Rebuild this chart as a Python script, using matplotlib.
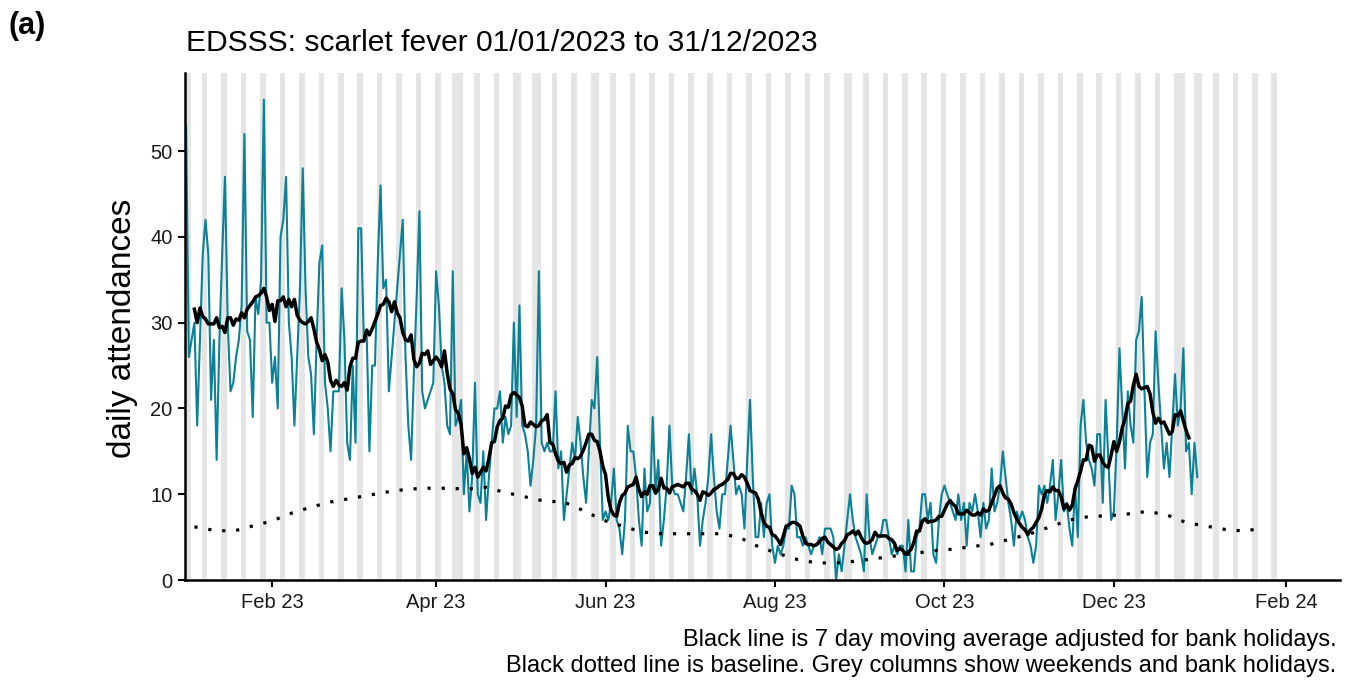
import numpy as np
import pandas as pd
import matplotlib
matplotlib.use("Agg")
from matplotlib import pyplot as plt
from matplotlib import dates as mdates

plt.rcParams['font.family'] = ['Liberation Sans', 'DejaVu Sans']

# daily attendances 01/01/2023 - 31/12/2023 (one row per week, Sun..Sat)
attendances = [
    53, 26, 28, 30, 18, 28, 38,
    42, 38, 21, 28, 14, 28, 38,
    47, 30, 22, 23, 26, 28, 32,
    52, 29, 28, 19, 33, 31, 35,
    56, 30, 30, 23, 26, 20, 40,
    42, 47, 30, 26, 18, 26, 34,
    48, 34, 26, 24, 17, 28, 37,
    39, 23, 20, 15, 22, 22, 22,
    34, 28, 16, 14, 25, 16, 41,
    41, 28, 29, 15, 25, 25, 37,
    46, 34, 35, 22, 26, 30, 34,
    38, 42, 26, 18, 14, 24, 33,
    43, 22, 20, 21, 22, 23, 36,
    32, 25, 23, 18, 17, 36, 18,
    19, 21, 10, 15, 8, 12, 23,
    10, 9, 15, 7, 12, 16, 20,
    20, 22, 16, 19, 17, 18, 30,
    19, 32, 18, 17, 15, 11, 14,
    18, 36, 16, 15, 16, 15, 15,
    22, 13, 15, 7, 10, 13, 16,
    14, 19, 16, 12, 9, 15, 21,
    20, 26, 16, 7, 8, 7, 9,
    13, 7, 6, 3, 7, 18, 15,
    15, 12, 7, 4, 13, 8, 9,
    19, 10, 14, 4, 7, 11, 18,
    11, 10, 10, 9, 8, 12, 17,
    10, 13, 10, 4, 7, 9, 12,
    17, 12, 8, 6, 10, 10, 14,
    18, 14, 10, 11, 10, 6, 14,
    21, 12, 5, 5, 9, 5, 9,
    10, 4, 2, 4, 3, 4, 6,
    6, 11, 10, 5, 5, 4, 5,
    4, 3, 4, 4, 5, 3, 6,
    6, 6, 5, 0, 3, 1, 4,
    7, 10, 7, 5, 4, 3, 1,
    10, 5, 3, 4, 5, 5, 7,
    7, 5, 3, 4, 3, 4, 4,
    1, 7, 1, 1, 5, 6, 10,
    10, 7, 9, 3, 2, 7, 10,
    11, 10, 9, 8, 7, 10, 7,
    9, 4, 9, 8, 10, 8, 5,
    9, 6, 7, 13, 8, 9, 11,
    15, 12, 9, 7, 4, 8, 7,
    8, 7, 5, 4, 2, 4, 11,
    10, 11, 9, 11, 14, 7, 10,
    14, 8, 9, 6, 4, 11, 5,
    18, 21, 16, 14, 13, 11, 17,
    17, 9, 21, 14, 7, 8, 16,
    27, 20, 13, 22, 18, 16, 28,
    29, 33, 22, 12, 16, 17, 29,
    23, 18, 13, 16, 12, 18, 24,
    18, 20, 27, 15, 16, 10, 16,
    12,
]

# baseline, weekly from 04/01/2023
baseline = [6.2, 5.8, 5.7, 6.3, 6.9, 7.8, 8.5, 9.1, 9.5, 9.9,
            10.3, 10.6, 10.7, 10.7, 10.6, 10.8, 10.2, 9.7, 9.2, 9.1,
            8.1, 7.0, 6.3, 5.6, 5.4, 5.4, 5.4, 5.4, 5.0, 3.9,
            3.1, 2.4, 2.0, 2.0, 2.2, 2.5, 2.8, 3.1, 3.4, 3.6,
            3.9, 4.2, 4.8, 5.4, 6.2, 7.0, 7.4, 7.5, 7.7, 8.0,
            7.6, 6.7, 6.3, 5.9, 5.7, 6.1]

bank_holidays = ['2023-01-02', '2023-04-07', '2023-04-10', '2023-05-01', '2023-05-08',
                 '2023-05-29', '2023-08-28', '2023-12-25', '2023-12-26', '2024-01-01']

dates = pd.date_range('2023-01-01', '2023-12-31', freq='D')
assert len(dates) == len(attendances)
series = pd.Series(attendances, index=dates, dtype=float)
ma7 = series.rolling(7, center=True).mean()
base_dates = pd.date_range('2023-01-04', periods=len(baseline), freq='7D')

fig = plt.figure(figsize=(13.57, 6.8), dpi=100)
ax = fig.add_axes([0.1363, 0.147, 0.8512, 0.7456])

# grey columns: weekends and bank holidays
cal = pd.date_range('2023-01-01', '2024-01-28', freq='D')
bh = pd.to_datetime(bank_holidays)
grey = [d for d in cal if d.weekday() >= 5 or d in bh]
runs = []
for d in grey:
    if runs and (d - runs[-1][1]).days == 1:
        runs[-1][1] = d
    else:
        runs.append([d, d])
for s, e in runs:
    x0 = mdates.date2num(s) - 0.3
    x1 = mdates.date2num(e) + 0.7
    ax.axvspan(x0, x1, color='#e5e5e5', lw=0, zorder=0)

ax.plot(dates, series, color='#0b8196', lw=1.5, zorder=2)
ax.plot(base_dates, baseline, color='black', lw=2.3, ls=(0, (1, 3.4)), zorder=3)
ax.plot(dates, ma7, color='black', lw=2.5, zorder=4)

start = mdates.date2num(pd.Timestamp('2023-01-01'))
ax.set_xlim(start - 0.4, start + 415.4)
ax.set_ylim(0, 59.1)
ax.set_yticks([0, 10, 20, 30, 40, 50])
ax.xaxis.set_major_locator(mdates.MonthLocator(bymonth=[2, 4, 6, 8, 10, 12]))
ax.xaxis.set_major_formatter(mdates.DateFormatter('%b %y'))

for sp in ['top', 'right']:
    ax.spines[sp].set_visible(False)
for sp in ['left', 'bottom']:
    ax.spines[sp].set_linewidth(1.8)
ax.tick_params(axis='both', length=5, width=1.5, labelsize=14.5, labelcolor='#1a1a1a', pad=4)

fig.text(0.137, 0.937, 'EDSSS: scarlet fever 01/01/2023 to 31/12/2023', fontsize=21.6,
         ha='left', va='center')
fig.text(0.006, 0.962, '(a)', fontsize=22, fontweight='bold', ha='left', va='center')
fig.text(0.0906, 0.5176, 'daily attendances', fontsize=24, rotation=90, ha='center', va='center')
fig.text(0.985, 0.059, 'Black line is 7 day moving average adjusted for bank holidays.',
         fontsize=17, ha='right', va='center')
fig.text(0.985, 0.021, 'Black dotted line is baseline. Grey columns show weekends and bank holidays.',
         fontsize=17, ha='right', va='center')

plt.savefig('out.png', dpi=100)
